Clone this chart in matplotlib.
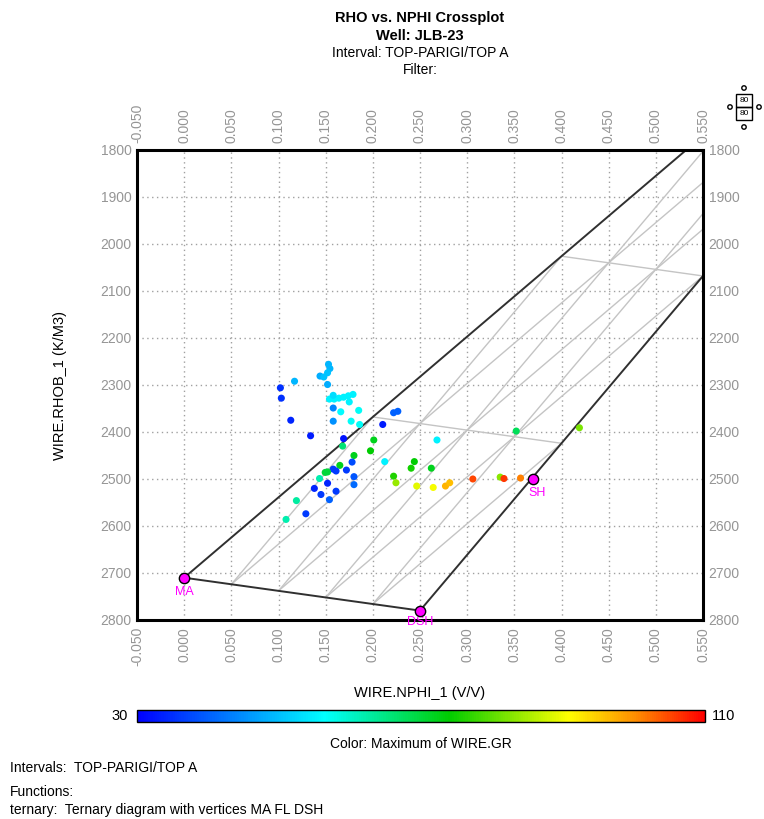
import matplotlib.pyplot as plt
import matplotlib as mpl
import numpy as np
from matplotlib.patches import Rectangle, Circle
from matplotlib.colors import LinearSegmentedColormap

plt.rcParams.update({'font.family': 'Liberation Sans'})

# Crossplot points
nphi = [0.153, 0.1545, 0.152, 0.144, 0.148, 0.117, 0.102, 0.103, 0.113, 0.134,
        0.154, 0.159, 0.164, 0.169, 0.174, 0.179, 0.158, 0.152, 0.175, 0.158,
        0.166, 0.185, 0.158, 0.177, 0.186, 0.222, 0.2265, 0.2105, 0.169, 0.168,
        0.201, 0.1975, 0.180, 0.178, 0.165, 0.158, 0.161, 0.152, 0.1495, 0.172,
        0.180, 0.1435, 0.152, 0.138, 0.161, 0.145, 0.154, 0.180, 0.119, 0.129,
        0.108, 0.2126, 0.268, 0.244, 0.2406, 0.262, 0.222, 0.2245, 0.2465, 0.264,
        0.277, 0.2815, 0.306, 0.335, 0.339, 0.3566, 0.352, 0.419]
rhob = [2256, 2265, 2274, 2281, 2283, 2292, 2306, 2328, 2375, 2408,
        2330, 2330, 2328, 2326, 2323, 2320, 2322, 2299, 2336, 2349,
        2357, 2354, 2377, 2377, 2384, 2359, 2356, 2384, 2414, 2430,
        2417, 2440, 2450, 2464, 2471, 2479, 2483, 2485, 2486, 2481,
        2495, 2499, 2509, 2520, 2526, 2533, 2544, 2512, 2546, 2574,
        2586, 2463, 2417, 2463, 2477, 2477, 2494, 2508, 2515, 2518,
        2515, 2508, 2500, 2496, 2499, 2498, 2398, 2391]
gr = [49, 49, 50, 48, 50, 49, 35, 35, 34, 33,
      55, 55, 55, 55, 55, 55, 53, 48, 55, 44,
      56, 57, 45, 57, 57, 40, 40, 33, 32, 66,
      72, 74, 72, 38, 72, 36, 36, 70, 70, 36,
      39, 62, 34, 34, 36, 36, 40, 41, 63, 36,
      62, 55, 55, 74, 75, 72, 76, 84, 89, 90,
      97, 96, 105, 83, 106, 101, 68, 82]

# Ternary vertices (NPHI, RHOB)
vert_names = ['MA', 'FL', 'DSH']
vert_nphi = [0.0, 1.0, 0.25]
vert_rhob = [2710, 1000, 2780]
sh_nphi, sh_rhob = 0.37, 2500
grid_steps = [0.2, 0.4, 0.6, 0.8]

x_ticks = np.round(np.arange(-0.05, 0.551, 0.05), 3)
y_ticks = np.arange(1800, 2801, 100)

gr_cmap = LinearSegmentedColormap.from_list(
    'gr', [(0.0, '#0000ff'), (0.33, '#00ffff'), (0.55, '#00cc00'),
           (0.76, '#ffff00'), (0.88, '#ff8c00'), (1.0, '#ff0000')])

W, H = 764, 819
fig = plt.figure(figsize=(W / 100, H / 100), dpi=100)
ax = fig.add_axes([137 / W, 1 - 620 / H, 566 / W, 470 / H])

ma = np.array([vert_nphi[0], vert_rhob[0]])
fl = np.array([vert_nphi[1], vert_rhob[1]])
dsh = np.array([vert_nphi[2], vert_rhob[2]])

# Ternary grid lines
for f in grid_steps:
    # constant FL fraction
    p1 = (1 - f) * ma + f * fl
    p2 = (1 - f) * dsh + f * fl
    ax.plot([p1[0], p2[0]], [p1[1], p2[1]], color='#c4c4c4', lw=1, zorder=1)
    # constant DSH fraction
    p1 = (1 - f) * ma + f * dsh
    p2 = f * dsh + (1 - f) * fl
    ax.plot([p1[0], p2[0]], [p1[1], p2[1]], color='#c4c4c4', lw=1, zorder=1)
    # constant MA fraction
    p1 = (1 - f) * ma + f * dsh
    p2 = (1 - f) * ma + f * fl
    ax.plot([p1[0], p2[0]], [p1[1], p2[1]], color='#c4c4c4', lw=1, zorder=1)

# Triangle edges
for a, b in [(ma, fl), (dsh, fl), (ma, dsh)]:
    ax.plot([a[0], b[0]], [a[1], b[1]], color='#303030', lw=1.4, zorder=2)

ax.scatter(nphi, rhob, c=gr, cmap=gr_cmap, vmin=30, vmax=110, s=26,
           marker='o', edgecolors='none', zorder=3)

# Vertex markers
ax.scatter([vert_nphi[0], vert_nphi[2], sh_nphi], [vert_rhob[0], vert_rhob[2], sh_rhob],
           s=55, c='magenta', edgecolors='black', linewidths=1, zorder=4, clip_on=False)
ax.text(vert_nphi[0], vert_rhob[0] + 18, 'MA', color='magenta', ha='center', va='top', fontsize=9)
ax.text(vert_nphi[2], vert_rhob[2] + 12, 'DSH', color='magenta', ha='center', va='top', fontsize=9)
ax.text(sh_nphi + 0.004, sh_rhob + 16, 'SH', color='magenta', ha='center', va='top', fontsize=9)

ax.set_xlim(-0.05, 0.55)
ax.set_ylim(2800, 1800)
ax.set_xticks(x_ticks)
ax.set_xticklabels([f'{v:.3f}' for v in x_ticks])
ax.set_yticks(y_ticks)
ax.grid(True, color='#a0a0a0', lw=1, linestyle=(0, (1, 2.5)))
ax.set_axisbelow(True)
ax.tick_params(axis='both', length=0, colors='#959595', labelsize=10,
               top=True, labeltop=True, right=True, labelright=True)
ax.tick_params(axis='x', labelrotation=90, pad=5)
ax.tick_params(axis='y', pad=4)
for s in ax.spines.values():
    s.set_linewidth(2.2)
    s.set_color('black')

ax.set_xlabel('WIRE.NPHI_1 (V/V)', fontsize=10.5, labelpad=14)
ax.set_ylabel('WIRE.RHOB_1 (K/M3)', fontsize=10.5, labelpad=24)

# Titles
cx = 420 / W
fig.text(cx, 1 - 18 / H, 'RHO vs. NPHI Crossplot', ha='center', va='center', fontsize=10.5, weight='bold')
fig.text(cx, 1 - 36 / H, 'Well: JLB-23', ha='center', va='center', fontsize=10.5, weight='bold')
fig.text(cx, 1 - 53 / H, 'Interval: TOP-PARIGI/TOP A', ha='center', va='center', fontsize=10)
fig.text(cx, 1 - 70 / H, 'Filter:', ha='center', va='center', fontsize=10)

# Colour bar
cax = fig.add_axes([137 / W, 1 - 722 / H, 568 / W, 12 / H])
norm = mpl.colors.Normalize(vmin=30, vmax=110)
cb = mpl.colorbar.ColorbarBase(cax, cmap=gr_cmap, norm=norm, orientation='horizontal')
cb.set_ticks([])
cb.outline.set_linewidth(1)
fig.text(120 / W, 1 - 716 / H, '30', ha='center', va='center', fontsize=10.5)
fig.text(724 / W, 1 - 716 / H, '110', ha='center', va='center', fontsize=10.5)
fig.text(421 / W, 1 - 744 / H, 'Color: Maximum of WIRE.GR', ha='center', va='center', fontsize=10)

# Footer
fig.text(10 / W, 1 - 768 / H, 'Intervals:  TOP-PARIGI/TOP A', ha='left', va='center', fontsize=10)
fig.text(10 / W, 1 - 792 / H, 'Functions:', ha='left', va='center', fontsize=10)
fig.text(10 / W, 1 - 810 / H, 'ternary:  Ternary diagram with vertices MA FL DSH', ha='left', va='center', fontsize=10)

# Small scale box in top right corner
bx = fig.add_axes([0, 0, 1, 1], facecolor='none')
bx.set_xlim(0, W)
bx.set_ylim(H, 0)
bx.axis('off')
bx.add_patch(Rectangle((736, 94), 16, 13, fill=False, lw=1, color='black'))
bx.add_patch(Rectangle((736, 107), 16, 13, fill=False, lw=1, color='black'))
bx.text(744, 100.5, '80', ha='center', va='center', fontsize=6)
bx.text(744, 113.5, '80', ha='center', va='center', fontsize=6)
for px, py in [(744, 88), (744, 127), (730, 107), (759, 107)]:
    bx.add_patch(Circle((px, py), 2.2, fill=False, lw=1, color='black'))

fig.savefig('out.png', dpi=100)
